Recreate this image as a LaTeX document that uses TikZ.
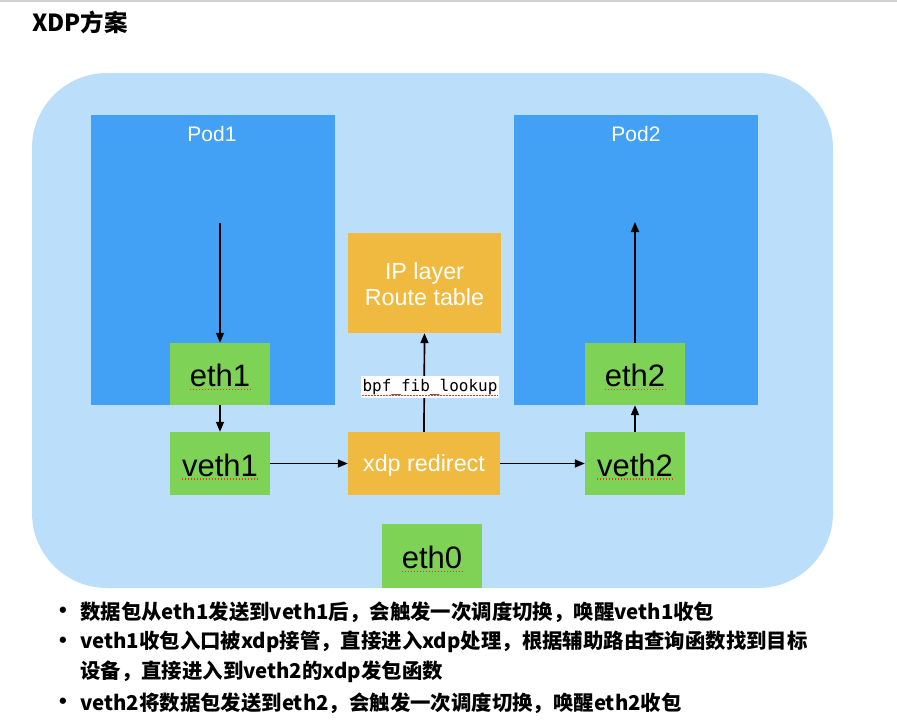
\documentclass[tikz,border=0pt]{standalone}
\usepackage{fontspec}
\setmainfont{Liberation Sans}
\newfontfamily\cjk{Noto Sans CJK SC}
\newfontfamily\monof{DejaVu Sans Mono}
\usetikzlibrary{arrows.meta}
\definecolor{bgblue}{RGB}{187,223,250}
\definecolor{podblue}{RGB}{66,161,245}
\definecolor{ethgreen}{RGB}{126,211,86}
\definecolor{xdporange}{RGB}{240,186,64}
\definecolor{squigred}{RGB}{230,60,40}
\newlength\xdpw
\begin{document}
\begin{tikzpicture}[x=1pt,y=-1pt,
  podbox/.style={fill=podblue, inner sep=0, minimum width=244pt, minimum height=290pt, anchor=north west},
  podlabel/.style={text=white, font=\fontsize{21}{25}\selectfont, inner sep=0},
  ethbox/.style={fill=ethgreen, inner sep=0, minimum width=100pt, minimum height=63pt},
  ethtext/.style={text=black, font=\fontsize{31}{35}\selectfont, inner sep=0, yshift=-1.5pt},
  orbox/.style={fill=xdporange, inner sep=0, minimum width=152pt},
  ortext/.style={text=white, font=\fontsize{23.3}{26}\selectfont, inner sep=0, align=center},
  arr/.style={line width=1.7pt, -{Triangle[length=10pt,width=8pt]}},
  squig/.style={squigred, line width=1.3pt, dash pattern=on 1.6pt off 1.4pt},
  bullettext/.style={font=\cjk\bfseries\fontsize{20.4}{24}\selectfont, inner sep=0, anchor=west},
  bulletdot/.style={font=\bfseries\fontsize{22}{24}\selectfont, inner sep=0}
]
\useasboundingbox (0,0) rectangle (897,720);
\fill[white] (0,0) rectangle (897,720);
\draw[black!18, line width=1.5pt] (0,0.75) -- (897,0.75);

% title
\node[font=\cjk\bfseries\fontsize{23.5}{27}\selectfont, anchor=west, inner sep=0] (title) at (32,22) {XDP方案};

% background region
\fill[bgblue, rounded corners=75pt] (32,73) rectangle (833,588);

% pods
\node[podbox] (pod1) at (91,115) {};
\node[podbox] (pod2) at (514,115) {};
\node[podlabel] (pod1t) at (212,133.5) {Pod1};
\node[podlabel] (pod2t) at (636,133.5) {Pod2};

% green boxes
\node[ethbox, minimum height=62pt] (eth1) at (220,374) {};
\node[ethbox] (veth1) at (220,463.5) {};
\node[ethbox, minimum height=62pt] (eth2) at (635,374) {};
\node[ethbox] (veth2) at (635,463.5) {};
\node[ethbox, minimum height=64pt] (eth0) at (432,556) {};

\node[ethtext] (eth1t) at (eth1) {eth1};
\node[ethtext] (veth1t) at (veth1) {veth1};
\node[ethtext] (eth2t) at (eth2) {eth2};
\node[ethtext] (veth2t) at (veth2) {veth2};
\node[ethtext] (eth0t) at (eth0) {eth0};

% orange boxes
\node[orbox, minimum height=63pt] (xdp) at (424,463.5) {};
\node[orbox, minimum width=153pt, minimum height=100pt] (ip) at (424.5,283) {};
\node[ortext] (xdpt) at ([yshift=-1.5pt]xdp.center) {xdp redirect};
\node[ortext] (ipt) at ([yshift=-1pt]ip.center) {IP layer\\Route table};

% red spell-check underlines
\foreach \n in {eth1t,veth1t,eth2t,veth2t,eth0t}{
  \draw[squig] ([yshift=-3pt]\n.base west) -- ([yshift=-3pt]\n.base east);
}
\settowidth{\xdpw}{\fontsize{23.3}{26}\selectfont xdp}
\draw[squig] ([yshift=-3.5pt]xdpt.base west) -- ++(\xdpw,0);

% connectors
\coordinate (p1in) at (220,223);
\coordinate (p2out) at (635,222);
\draw[arr] (p1in) -- (eth1.north);
\draw[arr] (eth1.south) -- (veth1.north);
\draw[arr] (veth1.east) -- (xdp.west);
\draw[arr] (xdp.east) -- (veth2.west);
\draw[arr] (veth2.north) -- (eth2.south);
\draw[arr] (eth2.north) -- (p2out);
\draw[arr] (xdp.north) -- (ip.south);

\node[fill=white, inner xsep=2pt, inner ysep=2.5pt, font=\monof\fontsize{16}{19}\selectfont] (bpf) at (430,387) {bpf\_fib\_lookup};
\draw[squig, line width=1pt] ([yshift=-4pt]bpf.base west) ++(2pt,0) -- ([yshift=-4pt,xshift=-2pt]bpf.base east);

% bullets
\node[bulletdot] (b1) at (63,612) {•};
\node[bulletdot] (b2) at (63,642) {•};
\node[bulletdot] (b4) at (63,703) {•};
\node[bullettext] (l1) at (80,612) {数据包从eth1发送到veth1后，会触发一次调度切换，唤醒veth1收包};
\node[bullettext] (l2) at (80,642) {veth1收包入口被xdp接管，直接进入xdp处理，根据辅助路由查询函数找到目标};
\node[bullettext] (l3) at (80,672) {设备，直接进入到veth2的xdp发包函数};
\node[bullettext] (l4) at (80,703) {veth2将数据包发送到eth2，会触发一次调度切换，唤醒eth2收包};
\end{tikzpicture}
\end{document}
